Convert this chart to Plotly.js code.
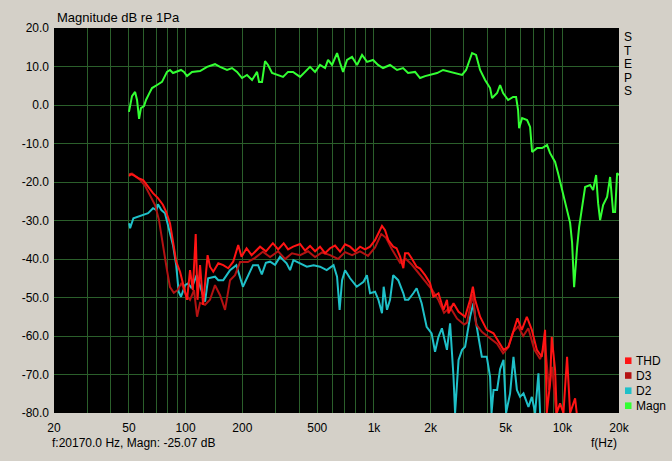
<!DOCTYPE html>
<html>
<head>
<meta charset="utf-8">
<script src="https://cdn.plot.ly/plotly-3.0.1.min.js"></script>
<style>html,body{margin:0;padding:0;background:#d4d0c8;}#chart{width:672px;height:461px;}</style>
</head>
<body>
<div id="chart"></div>
<script>
// ---- data ----
const magnFreq = [50.0,51.9,53.9,55.2,56.6,57.9,60.1,61.6,63.9,66.3,70.5,74.9,79.6,82.6,85.7,90.0,94.5,98.0,101.7,108.1,119.3,129.9,143.2,152.3,165.9,176.3,187.5,199.3,211.8,225.2,239.4,245.4,254.4,264,273.8,287.6,305.8,329,349.8,371.8,405,430.6,457.6,486.6,517,550,570.4,599,636.8,660.6,685.2,719.4,764.8,813,864.4,918.8,988.8,1051,1117,1217,1326,1427,1517,1653,1757,1868,2010,2163,2328,2536,2762,2936,3084,3200,3318,3484,3660,3890,4136,4238,4506,4674,4848,5154,5478,5682,5824,5896,6116,6502,6746,6912,7348,7810,8302,8612,9154,9496,10098,10606,11002,11274,11552,11986,12282,12740,13216,14050,14574,15118,15492,15874,16466,17294,17940,18610,19074,19544,20000];
const magnDb = [-1.8,2.3,3.4,1.3,-3.6,-0.8,-0.3,1.3,2.9,4.4,5.2,6.0,8.6,9.1,8.3,8.8,9.1,8.6,7.5,8.6,8.8,9.9,10.6,9.9,9.1,9.6,8.6,7.0,7.8,6.5,8.6,6.0,6.0,11.4,10.4,8.3,7.8,7.3,8.6,8.6,7.3,8.6,9.9,8.6,10.4,9.6,11.7,10.4,13.5,10.9,8.6,11.7,12.5,10.4,13.0,11.2,11.7,10.4,9.6,10.4,9.1,9.6,8.3,8.6,7.0,7.5,7.8,8.3,9.1,8.6,8.3,7.8,9.1,11.2,13.5,13.0,9.1,6.5,4.4,1.8,3.1,5.2,3.1,1.3,2.1,2.1,-1.3,-6.0,-3.4,-3.9,-5.7,-12.2,-11.2,-11.2,-10.4,-12.5,-14.8,-17.7,-22.9,-27.3,-30.6,-35.8,-47.3,-36.9,-31.7,-26.5,-21.3,-20.8,-22.1,-18.2,-25.5,-29.9,-26.0,-23.9,-18.7,-27.8,-27.8,-17.7,-18.2];

const thdFreq = [50,51.3,52.8,56.1,59.5,63.2,67.1,71.3,75.7,78.7,82.6,85.7,89.1,93.4,96.9,101.7,105.5,109.2,113.1,115.6,119.3,123.8,130.8,134.7,140.2,149.1,158.4,168.3,178.9,190.2,198.1,210.6,224,238.1,248.4,267,290.5,309.7,331.6,349.8,372.2,405,430.6,457.6,486.6,517,550,584.5,621.4,660.6,702.2,746.5,793.6,843.5,896.8,953.4,1013,1056,1103,1145,1191,1265,1318,1376,1432,1462,1522,1585,1685,1757,1868,1985,2067,2200,2295,2340,2441,2487,2644,2812,3047,3239,3351,3443,3660,3971,4313,4584,4874,5180,5505,5779,6095,6481,6889,7321,7780,8102,8270,8612,8790,9154,9344,9732,10140,10600,11002,11694,11930];
const thdDb = [-18.4,-18.0,-18.2,-19.0,-19.5,-21.2,-22.9,-24.2,-25.9,-27.7,-30.7,-35.5,-40.7,-43.3,-46.8,-50.6,-42.9,-48.1,-33.5,-50.6,-41.6,-51.9,-39.0,-42.0,-43.3,-41.1,-41.6,-42.4,-40.7,-36.4,-39.4,-37.2,-39.0,-37.7,-36.8,-38.0,-35.9,-37.5,-35.9,-37.5,-36.8,-36.1,-37.8,-36.6,-38.0,-36.8,-38.5,-37.2,-36.5,-38.1,-36.2,-36.8,-38.0,-36.8,-37.5,-36.8,-35.1,-33.3,-31.4,-32.5,-35.1,-36.8,-37.2,-39.4,-42.4,-38.5,-38.5,-39.8,-42.0,-42.5,-44.2,-46.3,-49.8,-48.9,-51.9,-53.2,-50.6,-54.1,-51.5,-53.7,-55.0,-50.6,-47.2,-50.6,-55.0,-58.4,-59.3,-61.5,-63.6,-62.8,-58.4,-55.4,-58.4,-55.0,-58.4,-63.6,-65.4,-58.4,-80,-72.3,-60.2,-68.8,-80,-77.5,-80,-65.4,-80,-76.2,-80];

const d3Freq = [50,51.9,54.5,57.2,60.9,64.7,68.8,72.2,75.6,79.6,82.6,86.5,90.5,95.1,100.5,105.5,110.8,115,119.3,126.8,134.7,143.2,152.3,161.9,172.1,182.9,194.5,214,233.7,257,280.7,309.7,337.2,367,405,446.7,486.6,530,584.5,645,702.2,765,843.5,930,1013,1093,1159,1245,1376,1479,1590,1714,1868,2035,2190,2356,2536,2762,3010,3122,3345,3484,3750,4136,4506,4848,5154,5478,5824,6200,6600,7100,7622,8102,8500,8830,9280];
const d3Db = [-18.0,-17.8,-18.6,-19.4,-21.0,-23.4,-26.0,-29.9,-36.4,-42.9,-47.3,-48.8,-48.1,-46.2,-49.4,-50.6,-48.1,-55.0,-51.4,-51.9,-50.6,-46.8,-49.4,-53.2,-45.5,-44.2,-40.8,-40.8,-39.7,-38.1,-39.5,-38.0,-40.0,-38.5,-39.0,-38.0,-39.5,-38.3,-39.0,-40.0,-38.2,-39.0,-38.0,-39.2,-37.0,-33.5,-34.5,-37.5,-41.0,-40.0,-41.5,-43.5,-45.5,-48.0,-50.5,-54.0,-52.5,-55.5,-57.0,-56.5,-49.0,-57.0,-59.0,-60.5,-62.0,-64.5,-63.0,-59.0,-57.5,-60.0,-58.0,-63.5,-66.0,-62.0,-74.0,-68.0,-80];

const d2Freq = [50.1,50.7,52.8,56.1,59.5,63.2,67.1,70,71.3,74.3,77.7,80.8,85.7,89.1,91.8,94.5,99.3,103.2,107.6,114.4,121.6,126.8,131.7,143.2,149.1,158.4,172.1,185.9,201.4,214.2,227.9,242.4,253.8,266.6,280.7,298.4,317.2,343.5,358.5,373.4,405,440,478,517,561,610,636.8,657,677,702.2,746.5,810,880,917,953.4,1013,1056,1103,1126,1173,1217,1265,1345,1432,1462,1522,1618,1685,1791,1904,2023,2110,2200,2295,2441,2536,2644,2696,2812,2936,3047,3239,3374,3443,3586,3738,3971,4136,4210,4313,4506,4674,4874,5030,5282,5505,5740,5968,6220,6610,6889,7170,7470,7622];
const d2Db = [-30.7,-32.0,-29.4,-29.0,-28.6,-28.1,-26.8,-27.3,-25.8,-27.3,-28.1,-31.6,-36.4,-41.6,-48.5,-49.8,-46.8,-46.3,-47.6,-44.2,-48.5,-51.1,-45.0,-44.6,-45.5,-45.5,-42.9,-41.6,-47.2,-44.2,-41.6,-41.6,-44.0,-41.0,-40.7,-41.5,-39.4,-41.1,-42.9,-40.3,-41.1,-42.0,-41.6,-42.0,-42.9,-41.6,-44.6,-53.2,-45.5,-42.9,-45.0,-47.2,-45.9,-44.2,-48.9,-48.5,-50.6,-54.1,-47.2,-53.2,-50.6,-44.2,-45.5,-48.9,-50.6,-50.6,-48.9,-47.6,-51.5,-57.6,-59.3,-64.1,-60.2,-58.0,-63.6,-56.7,-70.6,-80,-66.2,-63.6,-62.8,-55.0,-51.5,-55.0,-60.2,-65.4,-65.4,-70.6,-80,-74.0,-74.0,-68.6,-66.2,-80,-74.9,-65.4,-74.0,-75.8,-74.9,-78.4,-75.8,-80,-69.7,-80];

// x grid lines at every 1..9 multiple; only some carry labels
const xTickVals = [20,30,40,50,60,70,80,90,100,200,300,400,500,600,700,800,900,1000,2000,3000,4000,5000,6000,7000,8000,9000,10000,20000];
const xTickText = ['20','','','50','','','','','100','200','','','500','','','','','1k','2k','','','5k','','','','','10k','20k'];
const yTickVals = [20,10,0,-10,-20,-30,-40,-50,-60,-70,-80];
const yTickText = ['20.0','10.0','0.0','-10.0','-20.0','-30.0','-40.0','-50.0','-60.0','-70.0','-80.0'];
const legendNames = ['THD','D3','D2','Magn'];
const sideLetters = ['S','T','E','P','S'];

// ---- styles ----
const GRID = '#2b5f2b';
const FONT = 'Liberation Sans, Arial, sans-serif';
const colors = {THD:'#ff1414', D3:'#b41212', D2:'#1fc0c8', Magn:'#33ff33'};

const traces = [
  {x:d2Freq, y:d2Db, name:'D2', mode:'lines', line:{color:colors.D2, width:2}},
  {x:d3Freq, y:d3Db, name:'D3', mode:'lines', line:{color:colors.D3, width:2}},
  {x:thdFreq, y:thdDb, name:'THD', mode:'lines', line:{color:colors.THD, width:2}},
  {x:magnFreq, y:magnDb, name:'Magn', mode:'lines', line:{color:colors.Magn, width:2}}
];

const annotations = [];
const shapes = [];
sideLetters.forEach((ch, i) => {
  annotations.push({xref:'paper', yref:'paper', x:1, y:1, xanchor:'center', yanchor:'middle',
    xshift:9, yshift:-9 - 13.6*i, text:ch, showarrow:false, borderpad:0,
    font:{family:FONT, size:12, color:'#000'}});
});
const rowY = [360.7, 375.5, 390.7, 405.7];
legendNames.forEach((nm, i) => {
  const yp = (413 - rowY[i]) / 385;
  shapes.push({type:'rect', xref:'paper', yref:'paper', x0:(625-54)/565, x1:(631.5-54)/565,
    y0:yp - 3.3/385, y1:yp + 3.3/385, fillcolor:colors[nm], line:{width:0}});
  annotations.push({xref:'paper', yref:'paper', x:1, y:yp, xanchor:'left', yanchor:'middle',
    xshift:16, text:nm, showarrow:false, borderpad:0, font:{family:FONT, size:12, color:'#000'}});
});
annotations.push({xref:'paper', yref:'paper', x:0, y:0, xanchor:'left', yanchor:'middle',
  xshift:-3, yshift:-30, text:'f:20170.0 Hz, Magn: -25.07 dB', showarrow:false, borderpad:0,
  font:{family:FONT, size:12, color:'#000'}});
annotations.push({xref:'paper', yref:'paper', x:1, y:0, xanchor:'right', yanchor:'middle',
  xshift:-1, yshift:-30, text:'f(Hz)', showarrow:false, borderpad:0,
  font:{family:FONT, size:12, color:'#000'}});

const layout = {
  width:672, height:461,
  paper_bgcolor:'#d4d0c8', plot_bgcolor:'#000000',
  margin:{l:54, r:53, t:28, b:48, pad:0},
  showlegend:false,
  font:{family:FONT, size:12, color:'#000'},
  title:{text:'Magnitude dB re 1Pa', x:57/672, xanchor:'left', y:1-17/461, yanchor:'middle',
    font:{family:FONT, size:13, color:'#000'}},
  xaxis:{type:'log', range:[Math.log10(20), Math.log10(20000)], tickmode:'array',
    tickvals:xTickVals, ticktext:xTickText, showgrid:true, gridcolor:GRID, gridwidth:1,
    zeroline:false, showline:false, ticks:'', ticklabelstandoff:6, tickfont:{family:FONT, size:12, color:'#000'}},
  yaxis:{range:[-80,20], tickmode:'array', tickvals:yTickVals, ticktext:yTickText,
    showgrid:true, gridcolor:GRID, gridwidth:1, zeroline:false, showline:false, ticks:'',
    ticklabelstandoff:4, tickfont:{family:FONT, size:12, color:'#000'}},
  annotations:annotations,
  shapes:shapes
};

Plotly.newPlot('chart', traces, layout, {staticPlot:true, displayModeBar:false});
</script>
</body>
</html>
